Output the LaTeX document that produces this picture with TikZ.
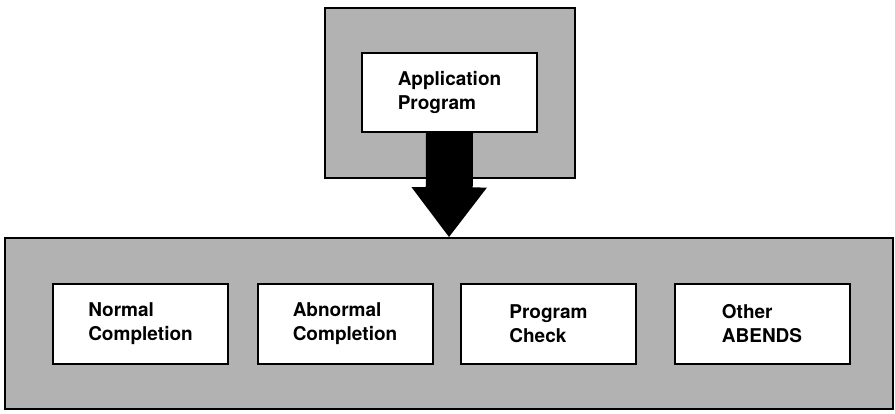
\documentclass[tikz,border=0pt]{standalone}
\usepackage{fontspec}
\setmainfont{TeX Gyre Heros}
\usetikzlibrary{arrows.meta}

\begin{document}
\begin{tikzpicture}[x=1pt,y=1pt]
\tikzset{
  shade box/.style={draw=black,line width=1.3pt,fill=black!30,minimum width=#1},
  item box/.style={draw=black,line width=2pt,fill=white,minimum width=175pt,minimum height=79pt,
    align=left,font=\bfseries\fontsize{19}{24}\selectfont},
  big arrow/.style={line width=47pt,-{Triangle[width=72pt 0,length=50pt 0]}}
}
\useasboundingbox (0,0) rectangle (895,-414);
% outer boxes
\node [shade box=250pt,minimum height=170pt] (top) at (450,-93) {};
\node [shade box=888pt,minimum height=171pt] (panel) at (449,-323.5) {};
% application program
\node [item box] (app) at (449.5,-92.5) {Application\\Program};
\draw [big arrow] (app.south) -- (panel.north);
% end conditions
\node [item box] (normal) at (140.5,-324) {Normal\\Completion};
\node [item box] (abnormal) at (345,-324) {Abnormal\\Completion};
\node [item box] (check) at (548.5,-324) {Program\\Check};
\node [item box] (other) at (762,-324) {Other\\ABENDS};
\end{tikzpicture}
\end{document}
